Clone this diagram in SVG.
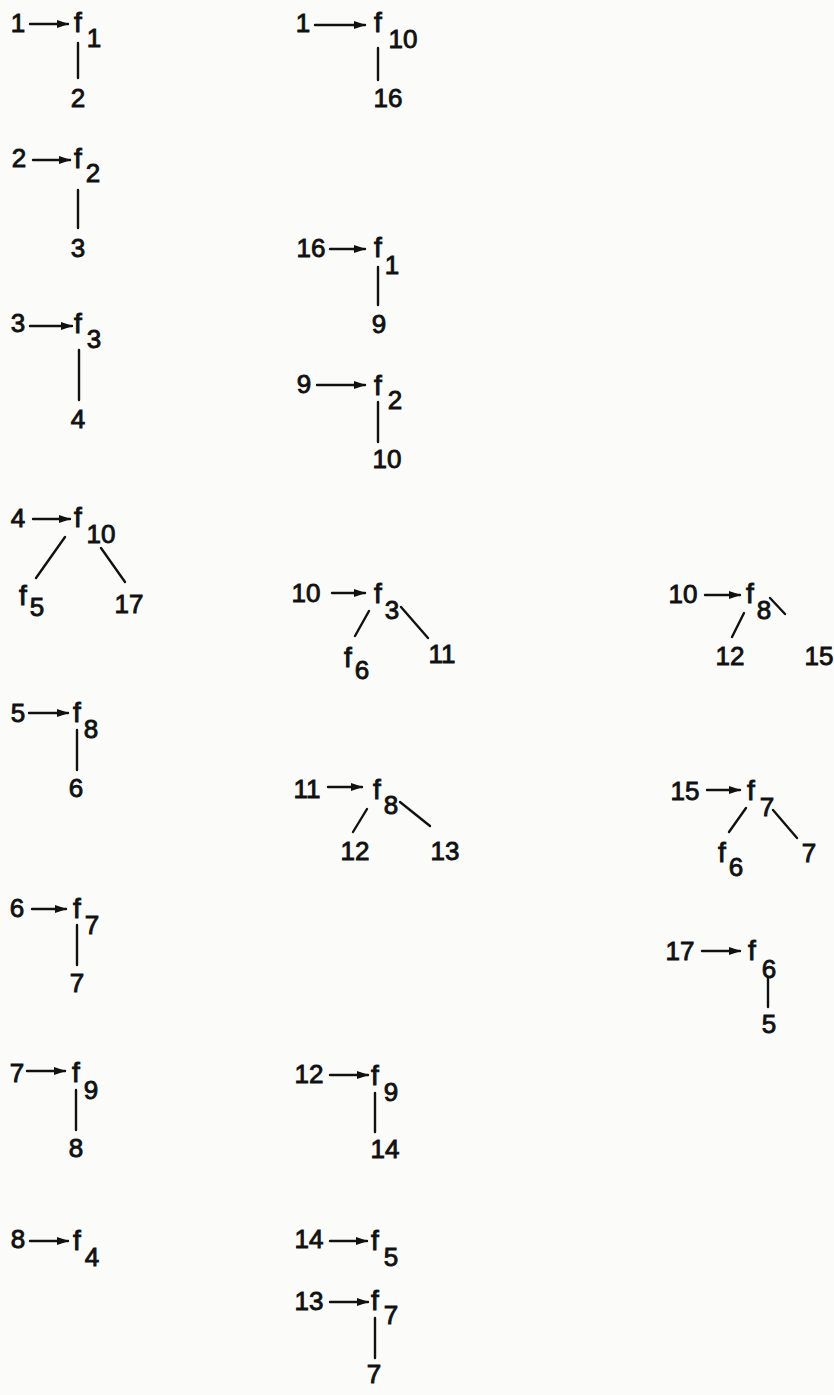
<svg xmlns="http://www.w3.org/2000/svg" width="834" height="1395" viewBox="0 0 834 1395">
<defs>
<style>
text{font-family:"Liberation Sans","DejaVu Sans",sans-serif;font-size:26px;fill:#111;stroke:#111;stroke-width:0.9;text-anchor:middle}
text.f{font-size:28px}
.c line{stroke:#111;stroke-width:2.4;stroke-linecap:round}
.c line.a{marker-end:url(#ah)}
</style>
<marker id="ah" markerUnits="userSpaceOnUse" markerWidth="12" markerHeight="8" refX="11" refY="4" orient="auto">
<path d="M0,0 L12,4 L0,8 z" fill="#111"/>
</marker>
</defs>
<rect width="834" height="1395" fill="#fbfbfa"/>

<g id="a1"><text x="18" y="32">1</text><text class="f" x="78" y="32">f</text><text x="94" y="47">1</text><text x="78" y="107">2</text></g>
<g id="a2"><text x="19" y="167">2</text><text class="f" x="78" y="168">f</text><text x="93" y="182">2</text><text x="78" y="257">3</text></g>
<g id="a3"><text x="18" y="332">3</text><text class="f" x="78" y="333">f</text><text x="94" y="348">3</text><text x="78" y="428">4</text></g>
<g id="a4"><text x="18" y="527">4</text><text class="f" x="78" y="527">f</text><text x="101" y="543">10</text><text class="f" x="23" y="605">f</text><text x="37" y="616">5</text><text x="129" y="613">17</text></g>
<g id="a5"><text x="18" y="722">5</text><text class="f" x="77" y="722">f</text><text x="91" y="738">8</text><text x="76" y="797">6</text></g>
<g id="a6"><text x="17" y="917">6</text><text class="f" x="77" y="918">f</text><text x="92" y="934">7</text><text x="77" y="992">7</text></g>
<g id="a7"><text x="17" y="1082">7</text><text class="f" x="76" y="1082">f</text><text x="91" y="1099">9</text><text x="76" y="1157">8</text></g>
<g id="a8"><text x="18" y="1248">8</text><text class="f" x="77" y="1250">f</text><text x="92" y="1266">4</text></g>

<g id="b1"><text x="303" y="32">1</text><text class="f" x="378" y="32">f</text><text x="403" y="48">10</text><text x="388" y="107">16</text></g>
<g id="b2"><text x="311" y="257">16</text><text class="f" x="378" y="257">f</text><text x="392" y="274">1</text><text x="379" y="333">9</text></g>
<g id="b3"><text x="304" y="393">9</text><text class="f" x="378" y="395">f</text><text x="395" y="409">2</text><text x="387" y="468">10</text></g>
<g id="b4"><text x="306" y="602">10</text><text class="f" x="378" y="603">f</text><text x="392" y="619">3</text><text class="f" x="348" y="667">f</text><text x="362" y="679">6</text><text x="442" y="663">11</text></g>
<g id="b5"><text x="307" y="798">11</text><text class="f" x="377" y="799">f</text><text x="391" y="814">8</text><text x="355" y="860">12</text><text x="445" y="860">13</text></g>
<g id="b6"><text x="309" y="1083">12</text><text class="f" x="375" y="1085">f</text><text x="391" y="1101">9</text><text x="385" y="1158">14</text></g>
<g id="b7"><text x="309" y="1248">14</text><text class="f" x="375" y="1250">f</text><text x="391" y="1266">5</text></g>
<g id="b8"><text x="309" y="1310">13</text><text class="f" x="375" y="1310">f</text><text x="391" y="1324">7</text><text x="374" y="1383">7</text></g>

<g id="c1"><text x="683" y="603">10</text><text class="f" x="750" y="603">f</text><text x="764" y="619">8</text><text x="730" y="665">12</text><text x="819" y="665">15</text></g>
<g id="c2"><text x="685" y="800">15</text><text class="f" x="751" y="800">f</text><text x="767" y="816">7</text><text class="f" x="722" y="862">f</text><text x="736" y="876">6</text><text x="809" y="862">7</text></g>
<g id="c3"><text x="680" y="960">17</text><text class="f" x="752" y="960">f</text><text x="769" y="978">6</text><text x="769" y="1033">5</text></g>

<g id="connectors" class="c">
<line class="a" x1="30" y1="24" x2="68" y2="24"/><line x1="78" y1="43" x2="78" y2="78"/>
<line class="a" x1="33" y1="160" x2="70" y2="160"/><line x1="78" y1="190" x2="78" y2="228"/>
<line class="a" x1="30" y1="326" x2="72" y2="326"/><line x1="79" y1="350" x2="79" y2="400"/>
<line class="a" x1="33" y1="519" x2="70" y2="519"/><line x1="65" y1="537" x2="36" y2="578"/><line x1="101" y1="548" x2="125" y2="582"/>
<line class="a" x1="29" y1="713" x2="68" y2="713"/><line x1="77" y1="730" x2="77" y2="770"/>
<line class="a" x1="32" y1="909" x2="66" y2="909"/><line x1="77" y1="925" x2="77" y2="965"/>
<line class="a" x1="27" y1="1071" x2="65" y2="1071"/><line x1="76" y1="1090" x2="76" y2="1130"/>
<line class="a" x1="30" y1="1241" x2="68" y2="1241"/>

<line class="a" x1="315" y1="25" x2="365" y2="25"/><line x1="378" y1="48" x2="378" y2="80"/>
<line class="a" x1="330" y1="249" x2="365" y2="249"/><line x1="378" y1="267" x2="378" y2="305"/>
<line class="a" x1="317" y1="385" x2="365" y2="385"/><line x1="378" y1="402" x2="378" y2="442"/>
<line class="a" x1="332" y1="593" x2="365" y2="593"/><line x1="369" y1="611" x2="355" y2="636"/><line x1="401" y1="607" x2="428" y2="638"/>
<line class="a" x1="328" y1="787" x2="362" y2="787"/><line x1="367" y1="809" x2="353" y2="832"/><line x1="400" y1="802" x2="430" y2="826"/>
<line class="a" x1="330" y1="1075" x2="368" y2="1075"/><line x1="375" y1="1093" x2="375" y2="1132"/>
<line class="a" x1="330" y1="1241" x2="367" y2="1241"/>
<line class="a" x1="330" y1="1302" x2="368" y2="1302"/><line x1="375" y1="1318" x2="375" y2="1358"/>

<line class="a" x1="705" y1="595" x2="740" y2="595"/><line x1="744" y1="613" x2="732" y2="637"/><line x1="770" y1="598" x2="785" y2="614"/>
<line class="a" x1="707" y1="790" x2="740" y2="790"/><line x1="746" y1="808" x2="729" y2="832"/><line x1="773" y1="810" x2="797" y2="838"/>
<line class="a" x1="702" y1="951" x2="740" y2="951"/><line x1="768" y1="978" x2="768" y2="1007"/>
</g>
</svg>
